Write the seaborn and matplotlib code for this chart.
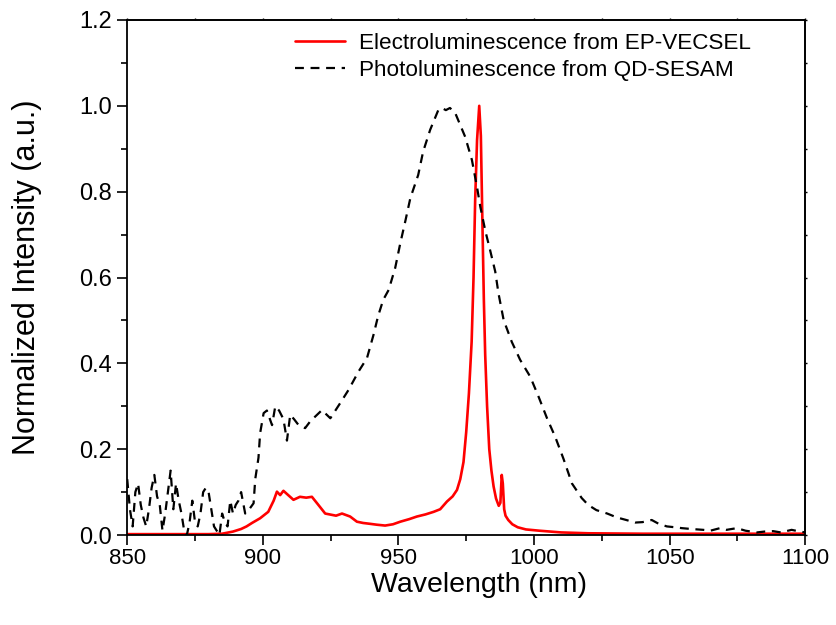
import numpy as np
import pandas as pd
import matplotlib
matplotlib.use("Agg")
import matplotlib.pyplot as plt
import seaborn as sns

# electroluminescence from EP-VECSEL (red, solid)
el_wl = [850, 860, 870, 880, 885, 889, 892, 894, 896, 899, 902, 904, 905.2, 906.4, 907.6, 909, 911.3,
         913.7, 916, 918.1, 920.5, 923, 925.4, 927, 929.2, 932.2, 934.7, 937, 939.6, 942, 945.1, 948,
         950.7, 954, 956.8, 960, 963, 965.4, 967.9, 970, 971.6, 972.8, 974, 975, 976, 977, 977.7,
         978.3, 979, 979.8, 980.4, 981, 981.5, 982, 982.7, 983.5, 984.3, 985.1, 986, 987, 987.6,
         988.1, 988.5, 989, 989.5, 990.5, 992, 994, 997, 1002, 1010, 1020, 1040, 1070, 1100]
el_int = [0.002, 0.002, 0.002, 0.002, 0.003, 0.008, 0.014, 0.02, 0.028, 0.039, 0.054, 0.08, 0.101,
          0.093, 0.103, 0.095, 0.082, 0.089, 0.087, 0.089, 0.07, 0.05, 0.047, 0.045, 0.05, 0.043,
          0.031, 0.028, 0.026, 0.024, 0.022, 0.025, 0.031, 0.037, 0.043, 0.048, 0.054, 0.06, 0.078,
          0.09, 0.105, 0.13, 0.17, 0.24, 0.33, 0.45, 0.6, 0.78, 0.92, 1.0, 0.93, 0.72, 0.55, 0.42,
          0.3, 0.2, 0.15, 0.113, 0.085, 0.068, 0.075, 0.14, 0.12, 0.06, 0.045, 0.035, 0.025, 0.018,
          0.013, 0.01, 0.006, 0.004, 0.003, 0.003, 0.003]

# photoluminescence from QD-SESAM (black, dashed)
pl_wl = [850, 851, 852, 853, 854, 855, 856, 857, 858, 859, 860, 861, 862, 863, 864, 865, 866, 867,
         868, 869, 870, 871, 872, 873, 874, 875, 876, 877, 878, 879, 880, 881, 882, 883, 884, 885,
         886, 887, 888, 889, 890, 891, 892, 893.5, 895, 896.6, 897.2, 898.4, 899, 900.3, 901.5,
         903.4, 904.6, 906, 907.6, 908.9, 910.1, 911.5, 913.2, 915.6, 917.5, 919.3, 921.8, 924.9,
         928.5, 931.6, 935.3, 938.4, 940.8, 942.5, 944.4, 946.4, 948.8, 950.7, 952.5, 954.4, 957.3,
         959.1, 961.7, 964.7, 966, 967.5, 969, 970.9, 972.5, 974.6, 977.1, 979, 980.2, 982, 983.8,
         985.7, 986.9, 988.8, 991.8, 994.9, 998.6, 1001.7, 1004.8, 1007.8, 1010.9, 1014, 1017.6,
         1020, 1023, 1027, 1030.5, 1034, 1037.3, 1040, 1043.4, 1046, 1049, 1052, 1054.5, 1058,
         1062.4, 1065, 1068.6, 1071, 1074.8, 1078, 1082.2, 1085, 1088.2, 1091, 1095, 1098, 1100]
pl_int = [0.13, 0.06, 0.02, 0.10, 0.12, 0.07, 0.04, 0.02, 0.06, 0.11, 0.14, 0.09, 0.07, 0.01, 0.05,
          0.10, 0.15, 0.06, 0.12, 0.08, 0.05, 0.01, 0.0, 0.03, 0.08, 0.03, 0.02, 0.05, 0.10, 0.11,
          0.10, 0.06, 0.02, 0.01, 0.0, 0.05, 0.03, 0.02, 0.08, 0.05, 0.07, 0.08, 0.10, 0.05, 0.06,
          0.074, 0.13, 0.18, 0.237, 0.284, 0.29, 0.256, 0.30, 0.29, 0.27, 0.22, 0.28, 0.27, 0.256,
          0.249, 0.265, 0.276, 0.291, 0.272, 0.307, 0.338, 0.381, 0.412, 0.466, 0.51, 0.548, 0.571,
          0.622, 0.68, 0.73, 0.785, 0.839, 0.893, 0.944, 0.99, 0.995, 0.99, 0.995, 0.984, 0.96,
          0.928, 0.874, 0.81, 0.765, 0.71, 0.664, 0.614, 0.563, 0.501, 0.45, 0.408, 0.369, 0.322,
          0.272, 0.229, 0.177, 0.12, 0.086, 0.07, 0.058, 0.05, 0.041, 0.035, 0.029, 0.03, 0.035,
          0.026, 0.02, 0.018, 0.016, 0.014, 0.012, 0.01, 0.016, 0.012, 0.016, 0.01, 0.006, 0.008,
          0.009, 0.006, 0.012, 0.008, 0.006]

el = pd.DataFrame({"wl": el_wl, "I": el_int})
pl = pd.DataFrame({"wl": pl_wl, "I": pl_int})

sns.set_style("ticks")
plt.rcParams["font.family"] = ["Liberation Sans", "DejaVu Sans"]
plt.rcParams["text.color"] = "black"
plt.rcParams["axes.labelcolor"] = "black"
plt.rcParams["xtick.color"] = "black"
plt.rcParams["ytick.color"] = "black"

fig = plt.figure(figsize=(8.37, 6.25), dpi=100)
ax = fig.add_axes([0.152, 0.144, 0.81, 0.824])

sns.lineplot(data=el, x="wl", y="I", color="#ff0000", lw=1.9, ax=ax,
             label="Electroluminescence from EP-VECSEL")
sns.lineplot(data=pl, x="wl", y="I", color="black", lw=1.6, ax=ax,
             linestyle=(0, (4, 3)), label="Photoluminescence from QD-SESAM")

ax.set_xlim(850, 1100)
ax.set_ylim(0, 1.2)
ax.set_xticks(np.arange(850, 1101, 50))
ax.set_xticks(np.arange(850, 1101, 25), minor=True)
ax.set_yticks(np.arange(0, 1.21, 0.2))
ax.set_yticks(np.arange(0, 1.21, 0.1), minor=True)
ax.yaxis.set_major_formatter(matplotlib.ticker.FormatStrFormatter("%.1f"))

ax.tick_params(which="major", direction="out", length=7.5, width=1.2, labelsize=17)
ax.tick_params(which="minor", direction="out", length=4.5, width=1.2)
# origin-style hairline ticks on the top and right frame
secx = ax.secondary_xaxis("top")
secx.set_xticks(np.arange(850, 1101, 25))
secx.tick_params(direction="out", length=1.5, width=1, labeltop=False)
secy = ax.secondary_yaxis("right")
secy.set_yticks(np.arange(0, 1.21, 0.1))
secy.tick_params(direction="out", length=1.5, width=1, labelright=False)
ax.tick_params(axis="x", pad=2, labelsize=16)
for s in ax.spines.values():
    s.set_linewidth(1.3)
    s.set_color("black")
for sa in (secx, secy):
    for s in sa.spines.values():
        s.set_linewidth(1.3)

ax.set_xlabel("Wavelength (nm)", fontsize=20.5)
ax.xaxis.set_label_coords(0.519, -0.072)
ax.set_ylabel("Normalized Intensity (a.u.)", fontsize=22)
ax.yaxis.set_label_coords(-0.126, 0.5)

ax.legend(loc="upper left", frameon=False, fontsize=16.2, handlelength=2.2,
          handletextpad=0.65, borderaxespad=0, borderpad=0, bbox_to_anchor=(0.248, 0.975),
          labelspacing=0.28)

fig.savefig("out.png", dpi=100)
